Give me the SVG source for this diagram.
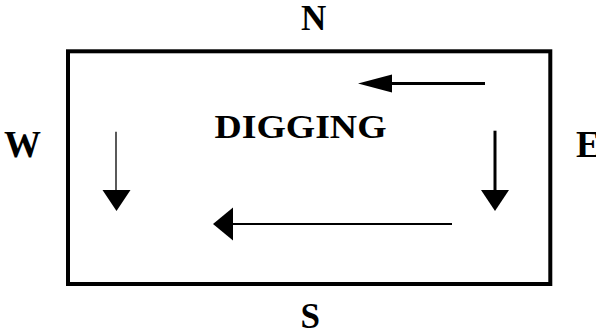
<svg xmlns="http://www.w3.org/2000/svg" width="596" height="334" viewBox="0 0 596 334">
<style>
.lbl{font-family:"Liberation Serif","Times New Roman",serif;font-weight:bold;fill:#000}
.shaft{stroke:#000;fill:none}
.head{fill:#000;stroke:none}
</style>
<rect width="596" height="334" fill="#fff"/>
<g id="area">
<rect x="68" y="51.3" width="482.3" height="232.7" fill="none" stroke="#000" stroke-width="4"/>
</g>
<g id="label-n"><text class="lbl" x="301" y="30.3" font-size="35">N</text></g>
<g id="label-s"><text class="lbl" x="300.5" y="328.3" font-size="35">S</text></g>
<g id="label-w"><text class="lbl" x="4" y="156.7" font-size="37">W</text></g>
<g id="label-e"><text class="lbl" x="576" y="157.3" font-size="37">E</text></g>
<g id="label-digging"><text class="lbl" x="214.5" y="137.7" font-size="33" textLength="172" lengthAdjust="spacingAndGlyphs">DIGGING</text></g>
<g id="connectors">
<line class="shaft" x1="391" y1="83.5" x2="485" y2="83.5" stroke-width="3"/>
<polygon class="head" points="358,83.5 392,74.5 392,92.5"/>
<line class="shaft" x1="495" y1="130.7" x2="495" y2="191" stroke-width="3"/>
<polygon class="head" points="481,190 509,190 495,211"/>
<line class="shaft" x1="116" y1="131.7" x2="116" y2="191" stroke-width="1.3"/>
<polygon class="head" points="102.5,190 130.5,190 116.5,211"/>
<line class="shaft" x1="232" y1="224" x2="452" y2="224" stroke-width="2"/>
<polygon class="head" points="213,224 233,207.5 233,240.5"/>
</g>
</svg>
